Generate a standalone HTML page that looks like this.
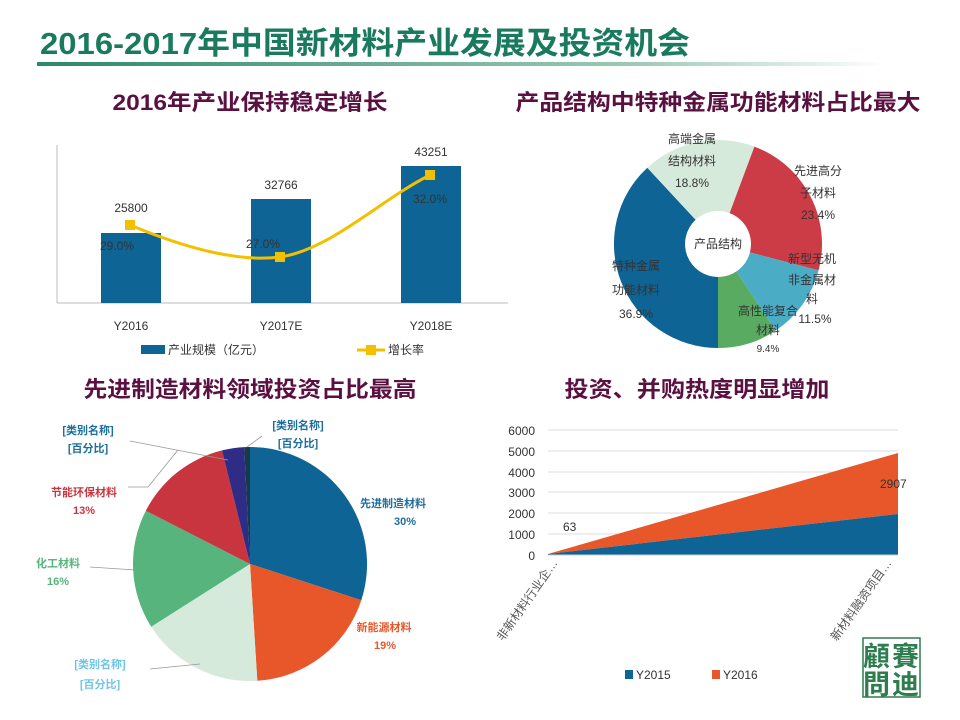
<!DOCTYPE html>
<html><head><meta charset="utf-8"><style>
body{margin:0;background:#fff}
svg{display:block}
text{font-family:"Liberation Sans","Noto Sans CJK SC",sans-serif}
.t{font-weight:bold;fill:#5a1040;font-size:22px;text-anchor:middle}
.s{font-size:12px;fill:#333}
.sf{font-family:"Liberation Serif","Noto Serif CJK SC",serif;font-weight:bold;font-size:11px}
</style></head><body>
<svg width="960" height="720" viewBox="0 0 960 720" xmlns="http://www.w3.org/2000/svg">
<defs>
<linearGradient id="g" x1="0" x2="1"><stop offset="0" stop-color="#2a8a68"/><stop offset="0.7" stop-color="#9cc9b4"/><stop offset="1" stop-color="#fff"/></linearGradient>
</defs>
<text x="40" y="54" font-size="31" font-weight="bold" fill="#1a7a5e" textLength="650" lengthAdjust="spacingAndGlyphs">2016-2017年中国新材料产业发展及投资机会</text>
<rect x="37" y="62" width="850" height="4" fill="url(#g)"/>

<!-- chart 1 -->
<text class="t" x="250" y="110" textLength="275" lengthAdjust="spacingAndGlyphs">2016年产业保持稳定增长</text>
<line x1="57" y1="145" x2="57" y2="303" stroke="#bbb"/>
<line x1="57" y1="303" x2="508" y2="303" stroke="#bbb"/>
<rect x="101" y="233" width="60" height="70" fill="#0e6494"/>
<rect x="251" y="199" width="60" height="104" fill="#0e6494"/>
<rect x="401" y="166" width="60" height="137" fill="#0e6494"/>
<g class="s" font-size="13" text-anchor="middle">
<text x="131" y="212">25800</text><text x="281" y="189">32766</text><text x="431" y="156">43251</text>
<text x="131" y="330">Y2016</text><text x="281" y="330">Y2017E</text><text x="431" y="330">Y2018E</text>
<text x="117" y="250">29.0%</text><text x="263" y="248">27.0%</text><text x="430" y="203">32.0%</text>
</g>
<path d="M130,225 C190,250 240,262 280,257 C330,250 380,200 430,175" fill="none" stroke="#f2c000" stroke-width="3"/>
<rect x="125" y="220" width="10" height="10" fill="#f2c000"/>
<rect x="275" y="252" width="10" height="10" fill="#f2c000"/>
<rect x="425" y="170" width="10" height="10" fill="#f2c000"/>
<rect x="141" y="345" width="24" height="9" fill="#0e6494"/>
<text class="s" x="168" y="354">产业规模（亿元）</text>
<line x1="357" y1="350" x2="385" y2="350" stroke="#f2c000" stroke-width="3"/>
<rect x="366" y="345" width="10" height="10" fill="#f2c000"/>
<text class="s" x="388" y="354">增长率</text>

<!-- chart 2 donut -->
<text class="t" x="718" y="110" textLength="405" lengthAdjust="spacingAndGlyphs">产品结构中特种金属功能材料占比最大</text>
<g transform="translate(718,244)">
<path d="M0,104 A104,104 0 0 1 -70.7,-76.3 L-22.4,-24.2 A33,33 0 0 0 0,33 Z" fill="#0e6494"/>
<path d="M-70.7,-76.3 A104,104 0 0 1 36.4,-97.4 L11.6,-30.9 A33,33 0 0 0 -22.4,-24.2 Z" fill="#d6eadb"/>
<path d="M36.4,-97.4 A104,104 0 0 1 100.6,26.4 L31.9,8.4 A33,33 0 0 0 11.6,-30.9 Z" fill="#cc3c47"/>
<path d="M100.6,26.4 A104,104 0 0 1 57.6,86.6 L18.3,27.5 A33,33 0 0 0 31.9,8.4 Z" fill="#4bacc6"/>
<path d="M57.6,86.6 A104,104 0 0 1 0,104 L0,33 A33,33 0 0 0 18.3,27.5 Z" fill="#5aab62"/>
</g>
<g class="s" font-size="11" text-anchor="middle" fill="#222">
<text x="718" y="248">产品结构</text>
<text x="692" y="143">高端金属</text><text x="692" y="165">结构材料</text><text x="692" y="187">18.8%</text>
<text x="818" y="175">先进高分</text><text x="818" y="197">子材料</text><text x="818" y="219">23.4%</text>
<text x="812" y="263">新型无机</text><text x="812" y="284">非金属材</text><text x="812" y="303">料</text><text x="815" y="323">11.5%</text>
<text x="768" y="315">高性能复合</text><text x="768" y="334">材料</text><text x="768" y="352" font-size="10">9.4%</text>
<text x="636" y="270">特种金属</text><text x="636" y="294">功能材料</text><text x="636" y="318">36.9%</text>
</g>

<!-- chart 3 pie -->
<text class="t" x="250" y="397" textLength="333" lengthAdjust="spacingAndGlyphs">先进制造材料领域投资占比最高</text>
<g transform="translate(250,564)">
<path d="M0,0 L0,-117 A117,117 0 0 1 111.3,36.2 Z" fill="#0e6494"/>
<path d="M0,0 L111.3,36.2 A117,117 0 0 1 7.3,116.8 Z" fill="#e8572a"/>
<path d="M0,0 L7.3,116.8 A117,117 0 0 1 -98.8,62.7 Z" fill="#d6eadb"/>
<path d="M0,0 L-98.8,62.7 A117,117 0 0 1 -104.2,-53.2 Z" fill="#56b47c"/>
<path d="M0,0 L-104.2,-53.2 A117,117 0 0 1 -28.0,-113.6 Z" fill="#c8353f"/>
<path d="M0,0 L-28.0,-113.6 A117,117 0 0 1 -5.8,-116.9 Z" fill="#2e2c84"/>
<path d="M0,0 L-5.8,-116.9 A117,117 0 0 1 0,-117 Z" fill="#163a4a"/>
</g>
<g stroke="#999" fill="none" stroke-width="0.8">
<polyline points="128,487 148,487 178,450"/>
<polyline points="130,441 228,460"/>
<polyline points="262,436 247,447"/>
<polyline points="90,567 136,570"/>
<polyline points="150,669 200,664"/>
</g>
<g class="sf" text-anchor="middle">
<text x="393" y="507" fill="#1e6e9c">先进制造材料</text><text x="405" y="525" fill="#1e6e9c">30%</text>
<text x="384" y="631" fill="#e8572a">新能源材料</text><text x="385" y="649" fill="#e8572a">19%</text>
<text x="100" y="668" fill="#6ec6e6">[类别名称]</text><text x="100" y="688" fill="#6ec6e6">[百分比]</text>
<text x="58" y="567" fill="#56b47c">化工材料</text><text x="58" y="585" fill="#56b47c">16%</text>
<text x="84" y="496" fill="#c8353f">节能环保材料</text><text x="84" y="514" fill="#c8353f">13%</text>
<text x="88" y="434" fill="#1e6e9c">[类别名称]</text><text x="88" y="452" fill="#1e6e9c">[百分比]</text>
<text x="298" y="429" fill="#1e6e9c">[类别名称]</text><text x="298" y="447" fill="#1e6e9c">[百分比]</text>
</g>

<!-- chart 4 area -->
<text class="t" x="697" y="397" textLength="265" lengthAdjust="spacingAndGlyphs">投资、并购热度明显增加</text>
<g stroke="#ddd">
<line x1="548" y1="430" x2="898" y2="430"/><line x1="548" y1="451" x2="898" y2="451"/>
<line x1="548" y1="472" x2="898" y2="472"/><line x1="548" y1="492" x2="898" y2="492"/>
<line x1="548" y1="513" x2="898" y2="513"/><line x1="548" y1="534" x2="898" y2="534"/>
</g>
<polygon points="548,554 898,453 898,514" fill="#e8572a"/>
<polygon points="548,554 898,514 898,555 548,555" fill="#0e6494"/>
<line x1="548" y1="555" x2="898" y2="555" stroke="#ccc"/>
<g class="s" font-size="13" text-anchor="end" fill="#444">
<text x="535" y="435">6000</text><text x="535" y="456">5000</text><text x="535" y="477">4000</text>
<text x="535" y="497">3000</text><text x="535" y="518">2000</text><text x="535" y="539">1000</text><text x="535" y="560">0</text>
</g>
<text class="s" x="563" y="531" font-size="13">63</text>
<text class="s" x="880" y="488" font-size="13">2907</text>
<text transform="translate(558,563) rotate(-55)" text-anchor="end" font-family="Liberation Serif,Noto Serif CJK SC,serif" font-size="12" fill="#555">非新材料行业企…</text>
<text transform="translate(892,563) rotate(-55)" text-anchor="end" font-family="Liberation Serif,Noto Serif CJK SC,serif" font-size="12" fill="#555">新材料融资项目…</text>
<rect x="625" y="670" width="8" height="9" fill="#0e6494"/><text class="s" x="636" y="679">Y2015</text>
<rect x="712" y="670" width="8" height="9" fill="#e8572a"/><text class="s" x="723" y="679">Y2016</text>

<rect x="863" y="638" width="57" height="59" fill="#fff" stroke="#2d7d4e" stroke-width="1.5"/>
<g font-family="Liberation Serif,Noto Serif CJK TC,serif" font-weight="bold" font-size="27" fill="#2d7d4e">
<text x="863" y="666">顧</text><text x="892" y="666">賽</text>
<text x="863" y="694">問</text><text x="892" y="694">迪</text>
</g>
</svg>
</body></html>
